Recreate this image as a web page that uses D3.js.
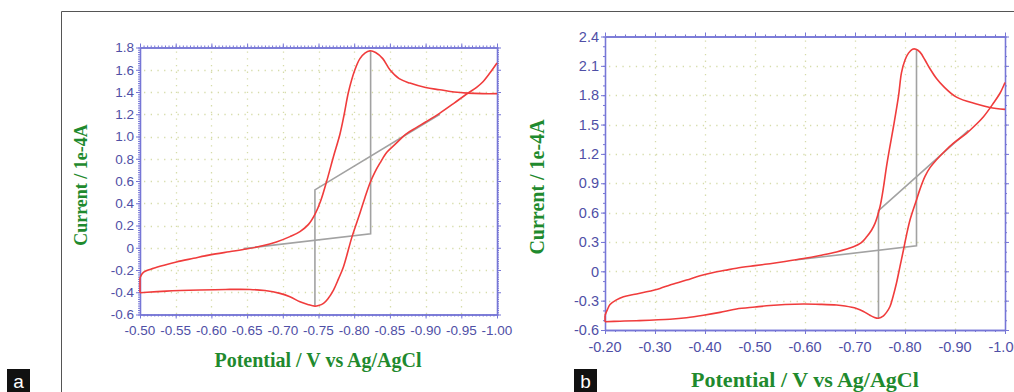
<!DOCTYPE html>
<head>
  <meta charset="utf-8">
  <script src="https://d3js.org/d3.v7.min.js"></script>
  <style>
    body { margin:0; background:#fff; overflow:hidden; }
    .tick-label { font-family: "Liberation Sans", Arial, sans-serif; fill: #4f4fa6; }
    .title { font-family: "Liberation Serif", "Times New Roman", serif; font-weight: bold; fill: #1f8a2e; }
    .grid line { stroke: #d6dcaa; stroke-width: 1.3; stroke-dasharray: 1.3,5.4; }
    .cv { fill: none; stroke: #f03c3c; stroke-width: 1.6; }
    .base { fill: none; stroke: #a2a2a2; stroke-width: 1.6; }
    .axis path, .axis line { stroke: #7676d6; }
  </style>
</head>

<body>
  <script>
    var width = 1014;
    var height = 392;

    // ---- panel a : -0.50 .. -1.00 V
    var aXTicks = [-0.50, -0.55, -0.60, -0.65, -0.70, -0.75, -0.80, -0.85, -0.90, -0.95, -1.00];
    var aYTicks = [-0.6, -0.4, -0.2, 0, 0.2, 0.4, 0.6, 0.8, 1.0, 1.2, 1.4, 1.6, 1.8];
    var aForward = [[-0.500,-0.27],[-0.505,-0.22],[-0.519,-0.185],[-0.535,-0.155],[-0.551,-0.128],[-0.575,-0.095],
      [-0.598,-0.064],[-0.625,-0.036],[-0.649,-0.012],[-0.670,0.015],[-0.691,0.052],[-0.710,0.10],[-0.724,0.145],
      [-0.736,0.21],[-0.745,0.30],[-0.753,0.42],[-0.762,0.61],[-0.771,0.82],[-0.780,1.02],[-0.786,1.20],
      [-0.792,1.40],[-0.801,1.60],[-0.808,1.70],[-0.815,1.75],[-0.822,1.77],[-0.830,1.755],[-0.840,1.70],
      [-0.850,1.60],[-0.863,1.52],[-0.878,1.48],[-0.900,1.44],[-0.920,1.42],[-0.940,1.40],[-0.958,1.39],
      [-0.980,1.385],[-1.000,1.385]];
    var aReverse = [[-1.000,1.66],[-0.990,1.57],[-0.980,1.49],[-0.971,1.44],[-0.957,1.38],[-0.940,1.30],
      [-0.920,1.21],[-0.900,1.13],[-0.887,1.08],[-0.872,1.02],[-0.859,0.94],[-0.846,0.86],[-0.836,0.76],
      [-0.829,0.68],[-0.822,0.58],[-0.815,0.45],[-0.808,0.31],[-0.797,0.10],[-0.785,-0.17],[-0.778,-0.28],
      [-0.771,-0.38],[-0.763,-0.46],[-0.757,-0.50],[-0.750,-0.52],[-0.745,-0.525],[-0.735,-0.51],
      [-0.724,-0.486],[-0.710,-0.44],[-0.696,-0.41],[-0.675,-0.385],[-0.654,-0.375],[-0.620,-0.375],
      [-0.584,-0.38],[-0.537,-0.39],[-0.510,-0.40],[-0.500,-0.405]];
    var aEdge = [[-0.500,-0.405],[-0.500,-0.27]];
    var aBase1 = [[-0.645,-0.008],[-0.823,0.125],[-0.823,1.77]];
    var aBase2 = [[-0.745,-0.52],[-0.745,0.52],[-0.920,1.20]];

    // ---- panel b : -0.20 .. -1.00 V
    var bXTicks = [-0.20, -0.30, -0.40, -0.50, -0.60, -0.70, -0.80, -0.90, -1.00];
    var bYTicks = [-0.6, -0.3, 0, 0.3, 0.6, 0.9, 1.2, 1.5, 1.8, 2.1, 2.4];
    var bForward = [[-0.200,-0.45],[-0.205,-0.39],[-0.210,-0.34],[-0.222,-0.295],[-0.237,-0.26],[-0.260,-0.235],
      [-0.283,-0.21],[-0.310,-0.175],[-0.330,-0.14],[-0.363,-0.09],[-0.390,-0.045],[-0.417,-0.012],[-0.440,0.01],
      [-0.463,0.032],[-0.500,0.058],[-0.530,0.078],[-0.560,0.10],[-0.597,0.13],[-0.630,0.162],[-0.663,0.198],
      [-0.697,0.25],[-0.712,0.29],[-0.723,0.35],[-0.733,0.42],[-0.740,0.49],[-0.750,0.66],[-0.757,0.86],
      [-0.763,1.07],[-0.770,1.28],[-0.777,1.48],[-0.787,1.79],[-0.793,2.03],[-0.800,2.16],[-0.807,2.23],
      [-0.815,2.27],[-0.822,2.27],[-0.830,2.24],[-0.840,2.16],[-0.850,2.07],[-0.863,1.97],[-0.877,1.89],
      [-0.903,1.78],[-0.943,1.71],[-0.970,1.675],[-1.000,1.655]];
    var bReverse = [[-1.000,1.93],[-0.990,1.82],[-0.977,1.72],[-0.957,1.58],[-0.940,1.49],[-0.923,1.41],
      [-0.897,1.31],[-0.880,1.23],[-0.863,1.14],[-0.850,1.06],[-0.840,0.97],[-0.830,0.84],[-0.823,0.73],
      [-0.810,0.525],[-0.803,0.37],[-0.797,0.22],[-0.790,0.05],[-0.783,-0.12],[-0.776,-0.26],[-0.770,-0.36],
      [-0.763,-0.42],[-0.757,-0.455],[-0.747,-0.48],[-0.738,-0.47],[-0.730,-0.45],[-0.717,-0.41],
      [-0.703,-0.38],[-0.680,-0.355],[-0.663,-0.345],[-0.630,-0.338],[-0.597,-0.335],[-0.560,-0.34],
      [-0.530,-0.35],[-0.500,-0.365],[-0.463,-0.385],[-0.430,-0.42],[-0.397,-0.45],[-0.363,-0.475],
      [-0.330,-0.49],[-0.263,-0.505],[-0.230,-0.51],[-0.200,-0.515]];
    var bEdge = [[-0.200,-0.515],[-0.200,-0.45]];
    var bBase1 = [[-0.580,0.115],[-0.823,0.26],[-0.823,2.27]];
    var bBase2 = [[-0.747,-0.48],[-0.747,0.62],[-0.927,1.44]];

    var xTitle = 'Potential / V vs Ag/AgCl';
    var yTitle = 'Current / 1e-4A';

    var svg = d3.select('body').append('svg')
      .attr('width', width)
      .attr('height', height);

    // outer frame of the figure
    svg.append('path')
      .attr('d', 'M61.5,' + height + 'V11.5H' + width)
      .attr('fill', 'none')
      .attr('stroke', '#555')
      .attr('stroke-width', 1);

    function yFmt(d) { return d === 0 ? '0' : d.toFixed(1); }

    function drawPanel(p) {
      var x = d3.scaleLinear().domain([p.xTicks[0], p.xTicks[p.xTicks.length - 1]]).range([p.left, p.right]);
      var y = d3.scaleLinear().domain([p.yTicks[0], p.yTicks[p.yTicks.length - 1]]).range([p.bottom, p.top]);
      var g = svg.append('g');

      // dotted grid
      var grid = g.append('g').attr('class', 'grid');
      grid.selectAll('.gx').data(p.xTicks.slice(1, -1)).enter().append('line')
        .attr('x1', function(d) { return Math.round(x(d)) + 0.5; })
        .attr('x2', function(d) { return Math.round(x(d)) + 0.5; })
        .attr('y1', p.top + 4).attr('y2', p.bottom);
      grid.selectAll('.gy').data(p.yTicks.slice(1, -1)).enter().append('line')
        .attr('y1', function(d) { return Math.round(y(d)) + 0.5; })
        .attr('y2', function(d) { return Math.round(y(d)) + 0.5; })
        .attr('x1', p.left + 4).attr('x2', p.right);

      // axes: minor + major ticks on all four sides
      var xMinor = d3.range(p.xTicks[p.xTicks.length - 1], p.xTicks[0] + 1e-9, p.xMinor);
      var yMinor = d3.range(p.yTicks[0], p.yTicks[p.yTicks.length - 1] + 1e-9, p.yMinor);
      var sides = [
        [d3.axisBottom, x, xMinor, p.xTicks, 'translate(0,' + p.bottom + ')'],
        [d3.axisTop, x, xMinor, p.xTicks, 'translate(0,' + p.top + ')'],
        [d3.axisLeft, y, yMinor, p.yTicks, 'translate(' + p.left + ',0)'],
        [d3.axisRight, y, yMinor, p.yTicks, 'translate(' + p.right + ',0)']
      ];
      sides.forEach(function(s) {
        g.append('g').attr('class', 'axis').attr('transform', s[4])
          .call(s[0](s[1]).tickValues(s[2]).tickSize(2).tickSizeOuter(0).tickFormat(''));
        g.append('g').attr('class', 'axis').attr('transform', s[4])
          .call(s[0](s[1]).tickValues(s[3]).tickSize(4).tickSizeOuter(0).tickFormat(''));
      });
      g.selectAll('.axis path').attr('stroke-width', 1.3);

      // tick labels
      var labels = g.append('g').attr('class', 'tick-label').style('font-size', p.font + 'px');
      labels.selectAll('.lx').data(p.xTicks).enter().append('text')
        .attr('x', function(d) { return x(d); })
        .attr('y', p.xLabelY)
        .attr('text-anchor', 'middle')
        .text(function(d) { return d.toFixed(2); });
      labels.selectAll('.ly').data(p.yTicks).enter().append('text')
        .attr('x', p.left - 6)
        .attr('y', function(d) { return y(d) + p.font * 0.36; })
        .attr('text-anchor', 'end')
        .text(yFmt);

      // curves
      var smooth = d3.line().x(function(d) { return x(d[0]); }).y(function(d) { return y(d[1]); })
        .curve(d3.curveCatmullRom.alpha(0.5));
      var straight = d3.line().x(function(d) { return x(d[0]); }).y(function(d) { return y(d[1]); });

      g.append('path').attr('class', 'base').attr('d', straight(p.base1));
      g.append('path').attr('class', 'base').attr('d', straight(p.base2));
      g.append('path').attr('class', 'cv').attr('d', smooth(p.forward));
      g.append('path').attr('class', 'cv').attr('d', smooth(p.reverse));
      g.append('path').attr('class', 'cv').attr('d', straight(p.edge));

      // titles
      g.append('text').attr('class', 'title')
        .attr('x', p.xTitle[0]).attr('y', p.xTitle[1])
        .attr('text-anchor', 'middle')
        .style('font-size', p.xTitleSize + 'px')
        .text(xTitle);
      g.append('text').attr('class', 'title')
        .attr('transform', 'translate(' + p.yTitle[0] + ',' + p.yTitle[1] + ') rotate(-90)')
        .attr('text-anchor', 'middle')
        .style('font-size', p.yTitleSize + 'px')
        .text(yTitle);
    }

    drawPanel({
      xTicks: aXTicks, yTicks: aYTicks, xMinor: 0.005, yMinor: 0.02,
      forward: aForward, reverse: aReverse, edge: aEdge, base1: aBase1, base2: aBase2,
      left: 140, right: 497, top: 47.5, bottom: 314.5,
      font: 13.5, xLabelY: 335,
      xTitle: [318, 367], xTitleSize: 20,
      yTitle: [87, 185], yTitleSize: 18
    });

    drawPanel({
      xTicks: bXTicks, yTicks: bYTicks, xMinor: 0.02, yMinor: 0.1,
      forward: bForward, reverse: bReverse, edge: bEdge, base1: bBase1, base2: bBase2,
      left: 605, right: 1005, top: 36.5, bottom: 330,
      font: 14.5, xLabelY: 352,
      xTitle: [805, 387], xTitleSize: 22,
      yTitle: [544, 187], yTitleSize: 20
    });

    // panel letters
    [['a', 7], ['b', 574]].forEach(function(l) {
      svg.append('rect').attr('x', l[1]).attr('y', 369).attr('width', 23).attr('height', 23).attr('fill', '#111');
      svg.append('text').attr('x', l[1] + 11.5).attr('y', 388)
        .attr('text-anchor', 'middle')
        .style('font-family', '"Liberation Sans", Arial, sans-serif')
        .style('font-size', '19px')
        .attr('fill', '#fff')
        .text(l[0]);
    });
  </script>
</body>
